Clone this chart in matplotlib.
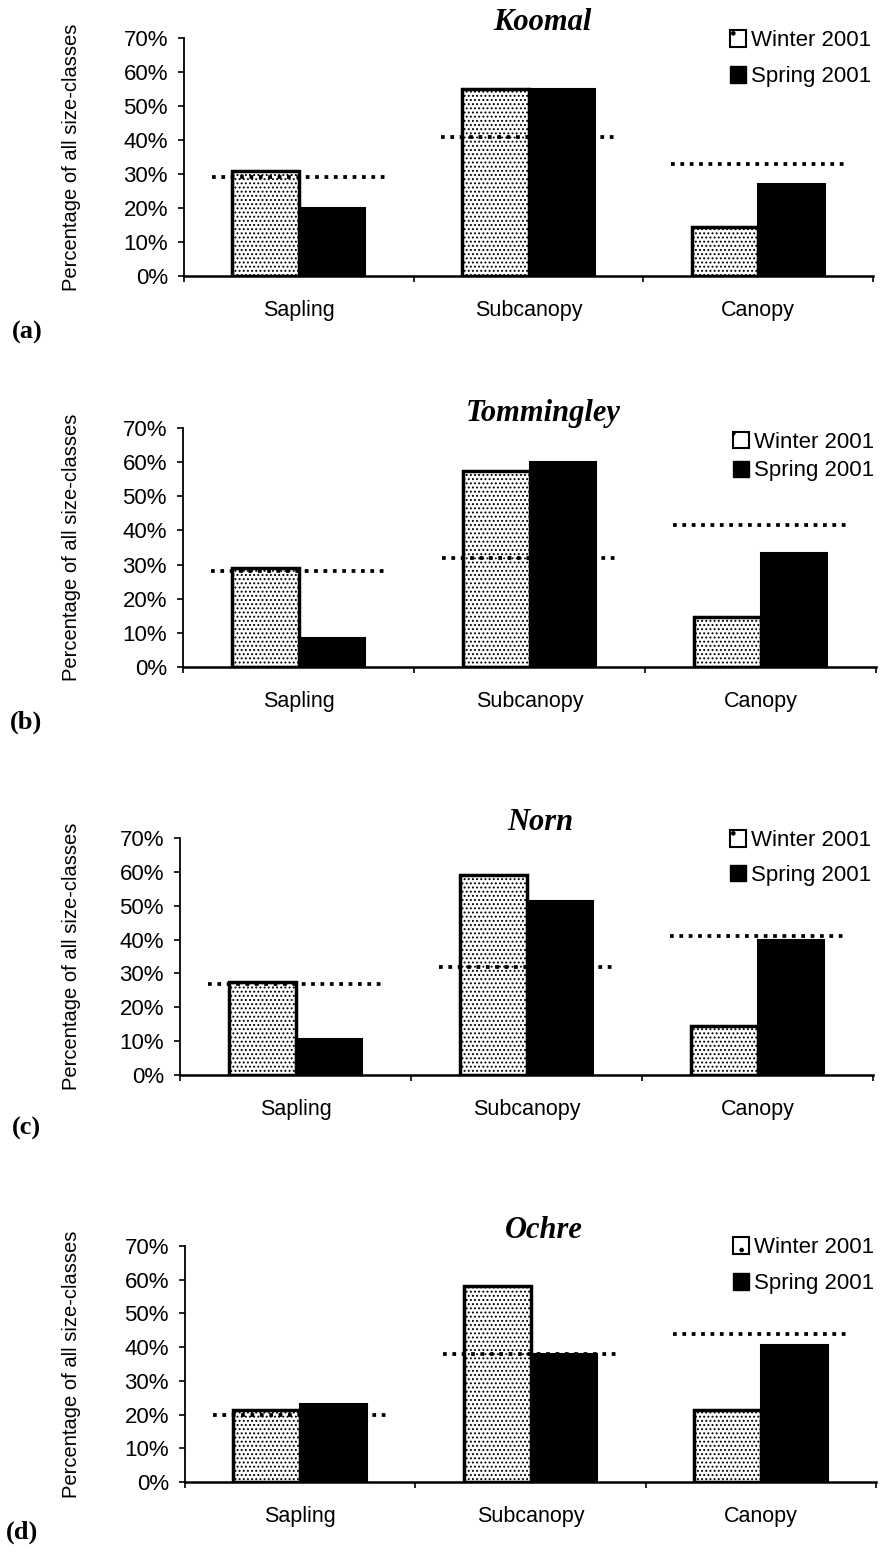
import matplotlib
matplotlib.use('Agg')
import matplotlib.pyplot as plt
from matplotlib.patches import Patch
from matplotlib.ticker import PercentFormatter
import numpy as np

plt.rcParams['font.family'] = ['Liberation Sans', 'DejaVu Sans']
plt.rcParams['hatch.linewidth'] = 0.9

# data (percent of all size-classes)
categories = ['Sapling', 'Subcanopy', 'Canopy']
sites = ['Koomal', 'Tommingley', 'Norn', 'Ochre']
panel_tags = ['(a)', '(b)', '(c)', '(d)']
winter = [[31, 55, 14.5], [29, 57.5, 14.5], [27.5, 59, 14.5], [21.5, 58, 21.5]]
spring = [[20, 55, 27], [8.5, 60, 33.5], [10.5, 51.5, 40], [23, 38, 40.5]]
ref_line = [[29, 41, 33], [28, 32, 41.5], [27, 32, 41], [20, 38, 44]]

W, H = 880, 1553
fig = plt.figure(figsize=(W / 100, H / 100), dpi=100)

# axes boxes in pixels: left, top(70%), right, bottom(0%)
boxes = [(184, 38, 873, 276), (183, 428, 876, 667), (180, 838, 873, 1075), (185, 1246, 876, 1482)]
tag_pos = [(12, 332), (10, 722), (12, 1128), (6, 1532)]
legend_y = [0.99, 0.94, 0.99, 0.995]
legend_gap = [0.68, 0.33, 0.6, 0.68]

x = np.arange(len(categories))
bw = 0.29

for i, site in enumerate(sites):
    l, t, r, b = boxes[i]
    ax = fig.add_axes([l / W, 1 - b / H, (r - l) / W, (b - t) / H])

    ax.bar(x - bw / 2, winter[i], bw, facecolor='white', edgecolor='black',
           linewidth=2.5, hatch='....', zorder=2)
    ax.bar(x + bw / 2, spring[i], bw, facecolor='black', edgecolor='black',
           linewidth=1.5, zorder=2)
    # dotted reference level per size-class
    for j, v in enumerate(ref_line[i]):
        ax.hlines(v, x[j] - 0.38, x[j] + 0.38, colors='black', linewidth=2.7,
                  linestyles=(0, (1, 1.5)), zorder=3)

    ax.set_xlim(-0.5, 2.5)
    ax.set_ylim(0, 70)
    ax.set_yticks(np.arange(0, 71, 10))
    ax.yaxis.set_major_formatter(PercentFormatter(xmax=100, decimals=0))
    ax.set_xticks(x)
    ax.set_xticklabels(categories)
    ax.set_xticks([-0.5, 0.5, 1.5, 2.5], minor=True)
    ax.tick_params(axis='x', which='major', length=0, pad=17, labelsize=15.5)
    ax.tick_params(axis='x', which='minor', length=4, width=1.2, direction='out')
    ax.tick_params(axis='y', length=4.5, width=1.2, pad=7, labelsize=16)
    for side in ['top', 'right']:
        ax.spines[side].set_visible(False)
    ax.spines['left'].set_linewidth(1.3)
    ax.spines['bottom'].set_linewidth(1.8)

    ax.set_ylabel('Percentage of all size-classes', fontsize=14.5)
    ax.yaxis.set_label_coords(-(l - 81) / (r - l), 0.5)

    ax.text(0.52, 1 + 15 / (b - t), site, transform=ax.transAxes, ha='center', va='center',
            fontsize=22, fontweight='bold', fontstyle='italic', family='Liberation Serif')

    handles = [Patch(facecolor='white', edgecolor='black', hatch='.', linewidth=1.5),
               Patch(facecolor='black', edgecolor='black')]
    ax.legend(handles, ['Winter 2001', 'Spring 2001'], loc='upper right',
              bbox_to_anchor=(1.01, legend_y[i] + 0.08), frameon=False, fontsize=16,
              handlelength=0.75, handleheight=0.75, handletextpad=0.2,
              labelspacing=legend_gap[i], borderaxespad=0)

    fig.text(tag_pos[i][0] / W, 1 - tag_pos[i][1] / H, panel_tags[i], ha='left', va='center',
             fontsize=19, fontweight='bold', family='Liberation Serif')

fig.savefig('out.png', dpi=100)
